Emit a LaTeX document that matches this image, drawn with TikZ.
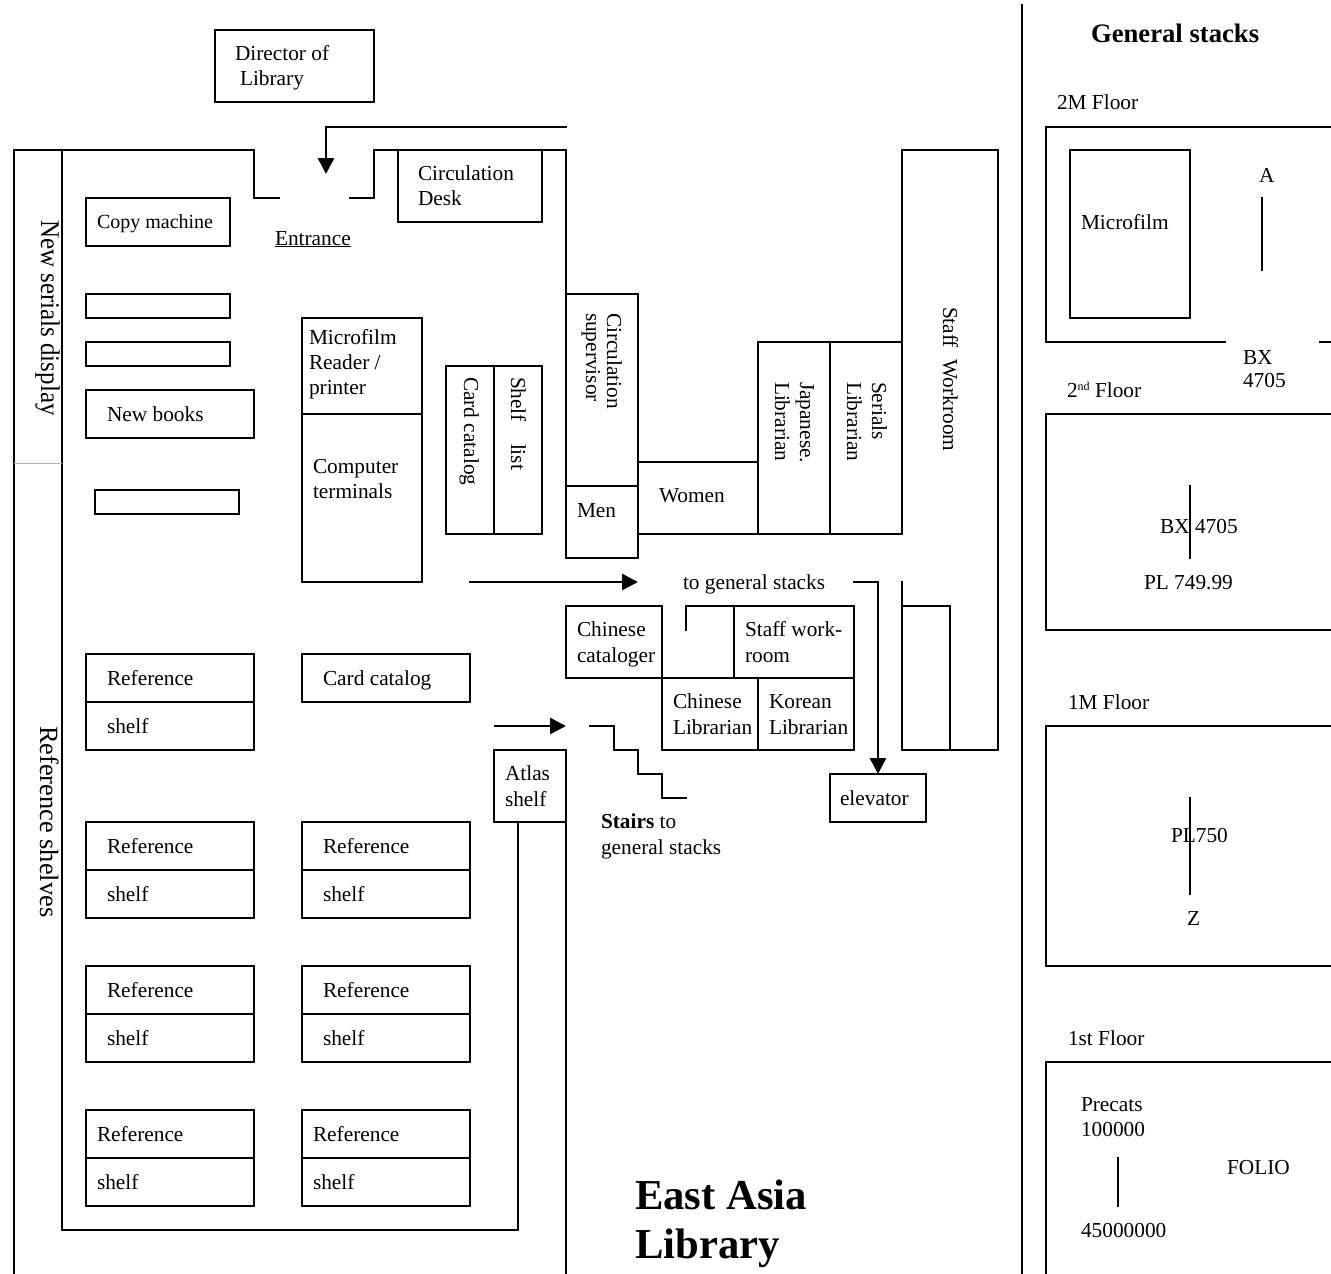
\documentclass[tikz,border=0pt]{standalone}
\usepackage{fontspec}
\setmainfont{Liberation Serif}
\usetikzlibrary{arrows.meta}
\newcommand{\bodyfont}{\fontsize{21.33}{24.5}\selectfont}
\tikzset{
  x=1pt,y=-1pt,
  wall/.style={draw=black,line width=2pt,line cap=rect,line join=miter},
  thinwall/.style={draw=black!30,line width=1pt},
  flow/.style={draw=black,line width=2.6pt,-{Triangle[length=16pt,width=16pt]}},
  lab/.style={anchor=base west,inner sep=0pt,outer sep=0pt,font=\bodyfont,align=left},
  vlab/.style={lab,rotate=-90},
  big/.style={lab,font=\fontsize{42.67}{49}\selectfont\bfseries},
}
\newcommand{\lab}[4]{\node[lab] (#1) at (#2,#3) {#4};}
\newcommand{\vlab}[4]{\node[vlab] (#1) at (#2,#3) {#4};}
\newcommand{\bx}[4]{\draw[wall] (#1,#2) rectangle (#3,#4);}
\begin{document}
\begin{tikzpicture}
\useasboundingbox (0,0) rectangle (1331,1274);
% director
\bx{215}{30}{374}{102}
\lab{dir1}{235}{60}{Director of}
\lab{dir2}{240}{85}{Library}
% entrance arrow
\coordinate (aS) at (566,127); \coordinate (aM) at (326,127); \coordinate (aE) at (326,174);
\draw[wall] (aS) -- (aM);
\draw[flow,line cap=butt] (aM) -- (aE);
% walls
\draw[wall] (14,1274) -- (14,150) -- (254,150) -- (254,198) -- (279,198);
\draw[wall] (350,198) -- (374,198) -- (374,150) -- (566,150) -- (566,294);
\draw[wall] (62,150) -- (62,1230) -- (518,1230) -- (518,822);
\draw[thinwall] (14,463) -- (62,463);
\node[vlab,font=\fontsize{27}{30}\selectfont] (nsd) at (41,220) {\scalebox{0.925}[1]{New serials display}};
\node[vlab,font=\fontsize{26.4}{29}\selectfont] (rsh) at (40,726) {Reference shelves};
\draw[wall] (566,822) -- (566,1274);
% left boxes
\bx{86}{198}{230}{246}
\node[lab,font=\fontsize{20}{24}\selectfont] (copy) at (97,228) {Copy machine};
\bx{86}{294}{230}{318}
\bx{86}{342}{230}{366}
\bx{86}{390}{254}{438} \lab{nb}{107}{421}{New books}
\bx{95}{490}{239}{514}
\lab{ent}{275}{245}{\underline{Entrance}}
\bx{398}{150}{542}{222}
\lab{cd1}{418}{180}{Circulation}
\lab{cd2}{418}{205}{Desk}
% microfilm
\bx{302}{318}{422}{582}
\draw[wall] (302,414) -- (422,414);
\lab{mf1}{309}{344}{Microfilm}
\lab{mf2}{309}{369}{Reader /}
\lab{mf3}{309}{394}{printer}
\lab{ct1}{313}{473}{Computer}
\lab{ct2}{313}{498}{terminals}
% card + shelf
\bx{446}{366}{542}{534}
\draw[wall] (494,366) -- (494,534);
\vlab{cc}{464}{377}{Card catalog}
\vlab{sl1}{511}{377}{Shelf}
\vlab{sl2}{511}{444}{list}
% staff row
\bx{566}{294}{638}{486}
\bx{566}{486}{638}{558}
\vlab{cs1}{607}{313}{Circulation}
\vlab{cs2}{586}{313}{supervisor}
\lab{men}{577}{517}{Men}
\draw[wall] (638,462) -- (758,462);
\draw[wall] (638,534) -- (902,534);
\lab{wom}{659}{502}{Women}
\draw[wall] (758,534) -- (758,342) -- (902,342);
\draw[wall] (830,342) -- (830,534);
\vlab{jp1}{800}{382}{Japanese.}
\vlab{jp2}{775}{382}{Librarian}
\vlab{se1}{872}{382}{Serials}
\vlab{se2}{847}{382}{Librarian}
\draw[wall] (902,534) -- (902,150) -- (998,150) -- (998,750) -- (902,750) -- (902,582);
\bx{902}{606}{950}{750}
\vlab{sw}{943}{307}{Staff\hspace{6pt} Workroom}
% general stacks arrow
\coordinate (gA) at (469,582); \coordinate (gB) at (638,582);
\draw[flow,line cap=butt] (gA) -- (gB);
\lab{tgs}{683}{589}{to general stacks}
\coordinate (eA) at (854,582); \coordinate (eB) at (878,582);
\draw[wall,line width=1.5pt] (eA) -- (eB);
\draw[flow,line cap=butt] (eB) -- (878,774);
\bx{830}{774}{926}{822} \lab{ele}{840}{805}{elevator}
% offices
\bx{566}{606}{662}{678}
\lab{cc1}{577}{636}{Chinese}
\lab{cc2}{577}{662}{cataloger}
\draw[wall] (686,630) -- (686,606) -- (734,606);
\bx{734}{606}{854}{678}
\lab{sw1}{745}{636}{Staff work-}
\lab{sw2}{745}{662}{room}
\bx{662}{678}{758}{750}
\bx{758}{678}{854}{750}
\lab{cl1}{673}{708}{Chinese}
\lab{cl2}{673}{734}{Librarian}
\lab{kl1}{769}{708}{Korean}
\lab{kl2}{769}{734}{Librarian}
% stairs
\coordinate (sA) at (494,726); \coordinate (sB) at (566,726);
\draw[flow,line cap=butt] (sA) -- (sB);
\draw[wall] (590,726) -- (614,726) -- (614,750) -- (638,750) -- (638,774) -- (662,774) -- (662,798) -- (686,798);
\lab{st1}{601}{828}{\textbf{Stairs} to}
\lab{st2}{601}{854}{general stacks}
\bx{494}{750}{566}{822}
\lab{at1}{505}{780}{Atlas}
\lab{at2}{505}{806}{shelf}
% reference boxes
\bx{86}{654}{254}{750} \draw[wall] (86,702) -- (254,702);
\lab{r1}{107}{685}{Reference} \lab{s1}{107}{733}{shelf}
\bx{302}{654}{470}{702} \lab{cc3}{323}{685}{Card catalog}
\bx{86}{822}{254}{918} \draw[wall] (86,870) -- (254,870);
\lab{r2}{107}{853}{Reference} \lab{s2}{107}{901}{shelf}
\bx{302}{822}{470}{918} \draw[wall] (302,870) -- (470,870);
\lab{r3}{323}{853}{Reference} \lab{s3}{323}{901}{shelf}
\bx{86}{966}{254}{1062} \draw[wall] (86,1014) -- (254,1014);
\lab{r4}{107}{997}{Reference} \lab{s4}{107}{1045}{shelf}
\bx{302}{966}{470}{1062} \draw[wall] (302,1014) -- (470,1014);
\lab{r5}{323}{997}{Reference} \lab{s5}{323}{1045}{shelf}
\bx{86}{1110}{254}{1206} \draw[wall] (86,1158) -- (254,1158);
\lab{r6}{97}{1141}{Reference} \lab{s6}{97}{1189}{shelf}
\bx{302}{1110}{470}{1206} \draw[wall] (302,1158) -- (470,1158);
\lab{r7}{313}{1141}{Reference} \lab{s7}{313}{1189}{shelf}
\node[big] (ea1) at (635,1209) {East Asia};
\node[big] (ea2) at (635,1258) {Library};
% general stacks
\draw[wall] (1022,5) -- (1022,1274);
\node[lab,font=\fontsize{26.67}{30}\selectfont\bfseries] (gs) at (1091,42) {General stacks};
\lab{f2m}{1057}{109}{2M Floor}
\draw[wall] (1331,127) -- (1046,127) -- (1046,342) -- (1225,342);
\draw[wall] (1320,342) -- (1331,342);
\bx{1070}{150}{1190}{318}
\lab{mfm}{1081}{229}{Microfilm}
\lab{a}{1259}{182}{A}
\draw[wall] (1262,198) -- (1262,270);
\lab{bx1}{1243}{364}{BX}
\lab{bx2}{1243}{387}{4705}
\lab{f2}{1067}{397}{2\raisebox{7pt}{\fontsize{12}{13}\selectfont nd} Floor}
\draw[wall] (1331,414) -- (1046,414) -- (1046,630) -- (1331,630);
\draw[wall] (1190,486) -- (1190,558);
\lab{bx3}{1160}{533}{BX}
\lab{bx4}{1195}{533}{4705}
\lab{pl1}{1144}{589}{PL 749.99}
\lab{f1m}{1068}{709}{1M Floor}
\draw[wall] (1331,726) -- (1046,726) -- (1046,966) -- (1331,966);
\draw[wall] (1190,798) -- (1190,894);
\lab{pl2}{1171}{842}{PL750}
\lab{z}{1187}{925}{Z}
\lab{f1}{1068}{1045}{1st Floor}
\draw[wall] (1331,1062) -- (1046,1062) -- (1046,1274);
\lab{pr1}{1081}{1111}{Precats}
\lab{pr2}{1081}{1136}{100000}
\draw[wall] (1118,1158) -- (1118,1206);
\lab{fol}{1227}{1174}{FOLIO}
\lab{num}{1081}{1237}{45000000}
\end{tikzpicture}
\end{document}
